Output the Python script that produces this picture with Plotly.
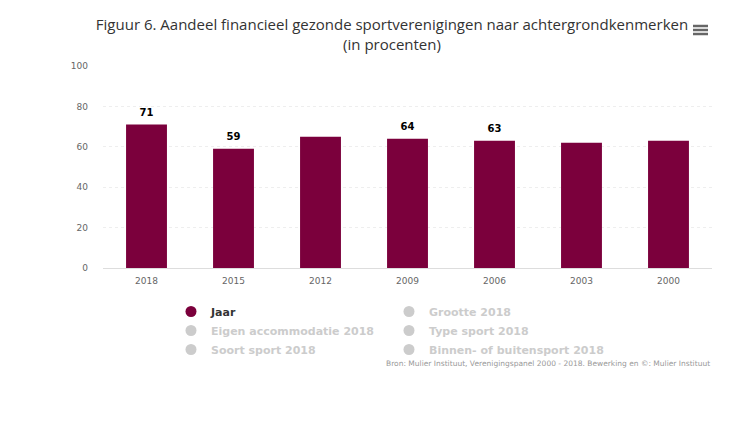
import plotly.graph_objects as go

years = ["2018", "2015", "2012", "2009", "2006", "2003", "2000"]
share = [71, 59, 65, 64, 63, 62, 63]
labels = ["71", "59", "", "64", "63", "", ""]
legend_names = ["Jaar", "Grootte 2018", "Eigen accommodatie 2018", "Type sport 2018",
                "Soort sport 2018", "Binnen- of buitensport 2018"]
y_ticks = [0, 20, 40, 60, 80, 100]

BAR = "#7b003c"
W, H = 752, 430
L, R, T, B = 103, 40, 66, 162

fig = go.Figure()
fig.add_trace(go.Bar(
    x=years, y=share, marker=dict(color=BAR, line=dict(width=0)),
    showlegend=False, hoverinfo="x+y",
))
# data labels above selected bars
fig.add_trace(go.Scatter(
    x=years, y=share, text=labels, mode="markers+text", textposition="top center",
    marker=dict(size=8, opacity=0, color=BAR), cliponaxis=False,
    textfont=dict(family="DejaVu Sans", size=10, color="#000000", weight="bold"),
    showlegend=False, hoverinfo="skip",
))

for i, name in enumerate(legend_names):
    active = i == 0
    col = BAR if active else "#cccccc"
    txtcol = "#333333" if active else "#cccccc"
    fig.add_trace(go.Scatter(
        x=[None], y=[None], mode="markers", name=f'<span style="color:{txtcol}">{name}</span>',
        marker=dict(symbol="circle", size=11, color=col), showlegend=True,
    ))

def px_x(p):
    return (p - L) / (W - L - R)

def px_y(p):
    return (H - B - p) / (H - T - B)

# export menu icon
for yy in (26, 30, 34):
    fig.add_shape(type="line", xref="paper", yref="paper",
                  x0=px_x(693), x1=px_x(708), y0=px_y(yy), y1=px_y(yy),
                  line=dict(color="#666666", width=2.5))

fig.add_annotation(
    text="Bron: Mulier Instituut, Verenigingspanel 2000 - 2018. Bewerking en ©: Mulier Instituut",
    xref="paper", yref="paper", x=1.0, y=px_y(363), xanchor="right", yanchor="middle",
    showarrow=False, font=dict(family="DejaVu Sans", size=7.5, color="#999999"),
)

fig.update_layout(
    width=W, height=H,
    margin=dict(l=L, r=R, t=T, b=B, pad=0),
    paper_bgcolor="#ffffff", plot_bgcolor="#ffffff",
    bargap=0.53,
    title=dict(
        text="Figuur 6. Aandeel financieel gezonde sportverenigingen naar achtergrondkenmerken<br>(in procenten)",
        x=392 / W, xref="container", xanchor="center",
        y=1 - 30 / H, yref="container", yanchor="top",
        font=dict(family="Open Sans", size=15, color="#333333"),
    ),
    xaxis=dict(
        type="category", showgrid=False, showline=True, linecolor="#dddddd", linewidth=1,
        ticks="", ticklabelstandoff=4, tickfont=dict(family="DejaVu Sans", size=9, color="#666666"),
        fixedrange=True,
    ),
    yaxis=dict(
        range=[0, 100], tickvals=y_ticks, showgrid=True, gridcolor="#eeeeee", griddash="dot",
        zeroline=False, showline=False, ticks="", ticklabelstandoff=14,
        tickfont=dict(family="DejaVu Sans", size=9, color="#666666"), fixedrange=True,
    ),
    legend=dict(
        orientation="h", x=px_x(171), y=px_y(297), xanchor="left", yanchor="top",
        entrywidth=173, entrywidthmode="pixels", tracegroupgap=0,
        itemclick=False, itemdoubleclick=False,
        font=dict(family="DejaVu Sans", size=11, color="#333333", weight="bold"),
        bgcolor="rgba(0,0,0,0)",
    ),
    showlegend=True,
)

fig.write_html("out.html", config={"displayModeBar": False},
               post_script="document.body.style.margin='0';")
